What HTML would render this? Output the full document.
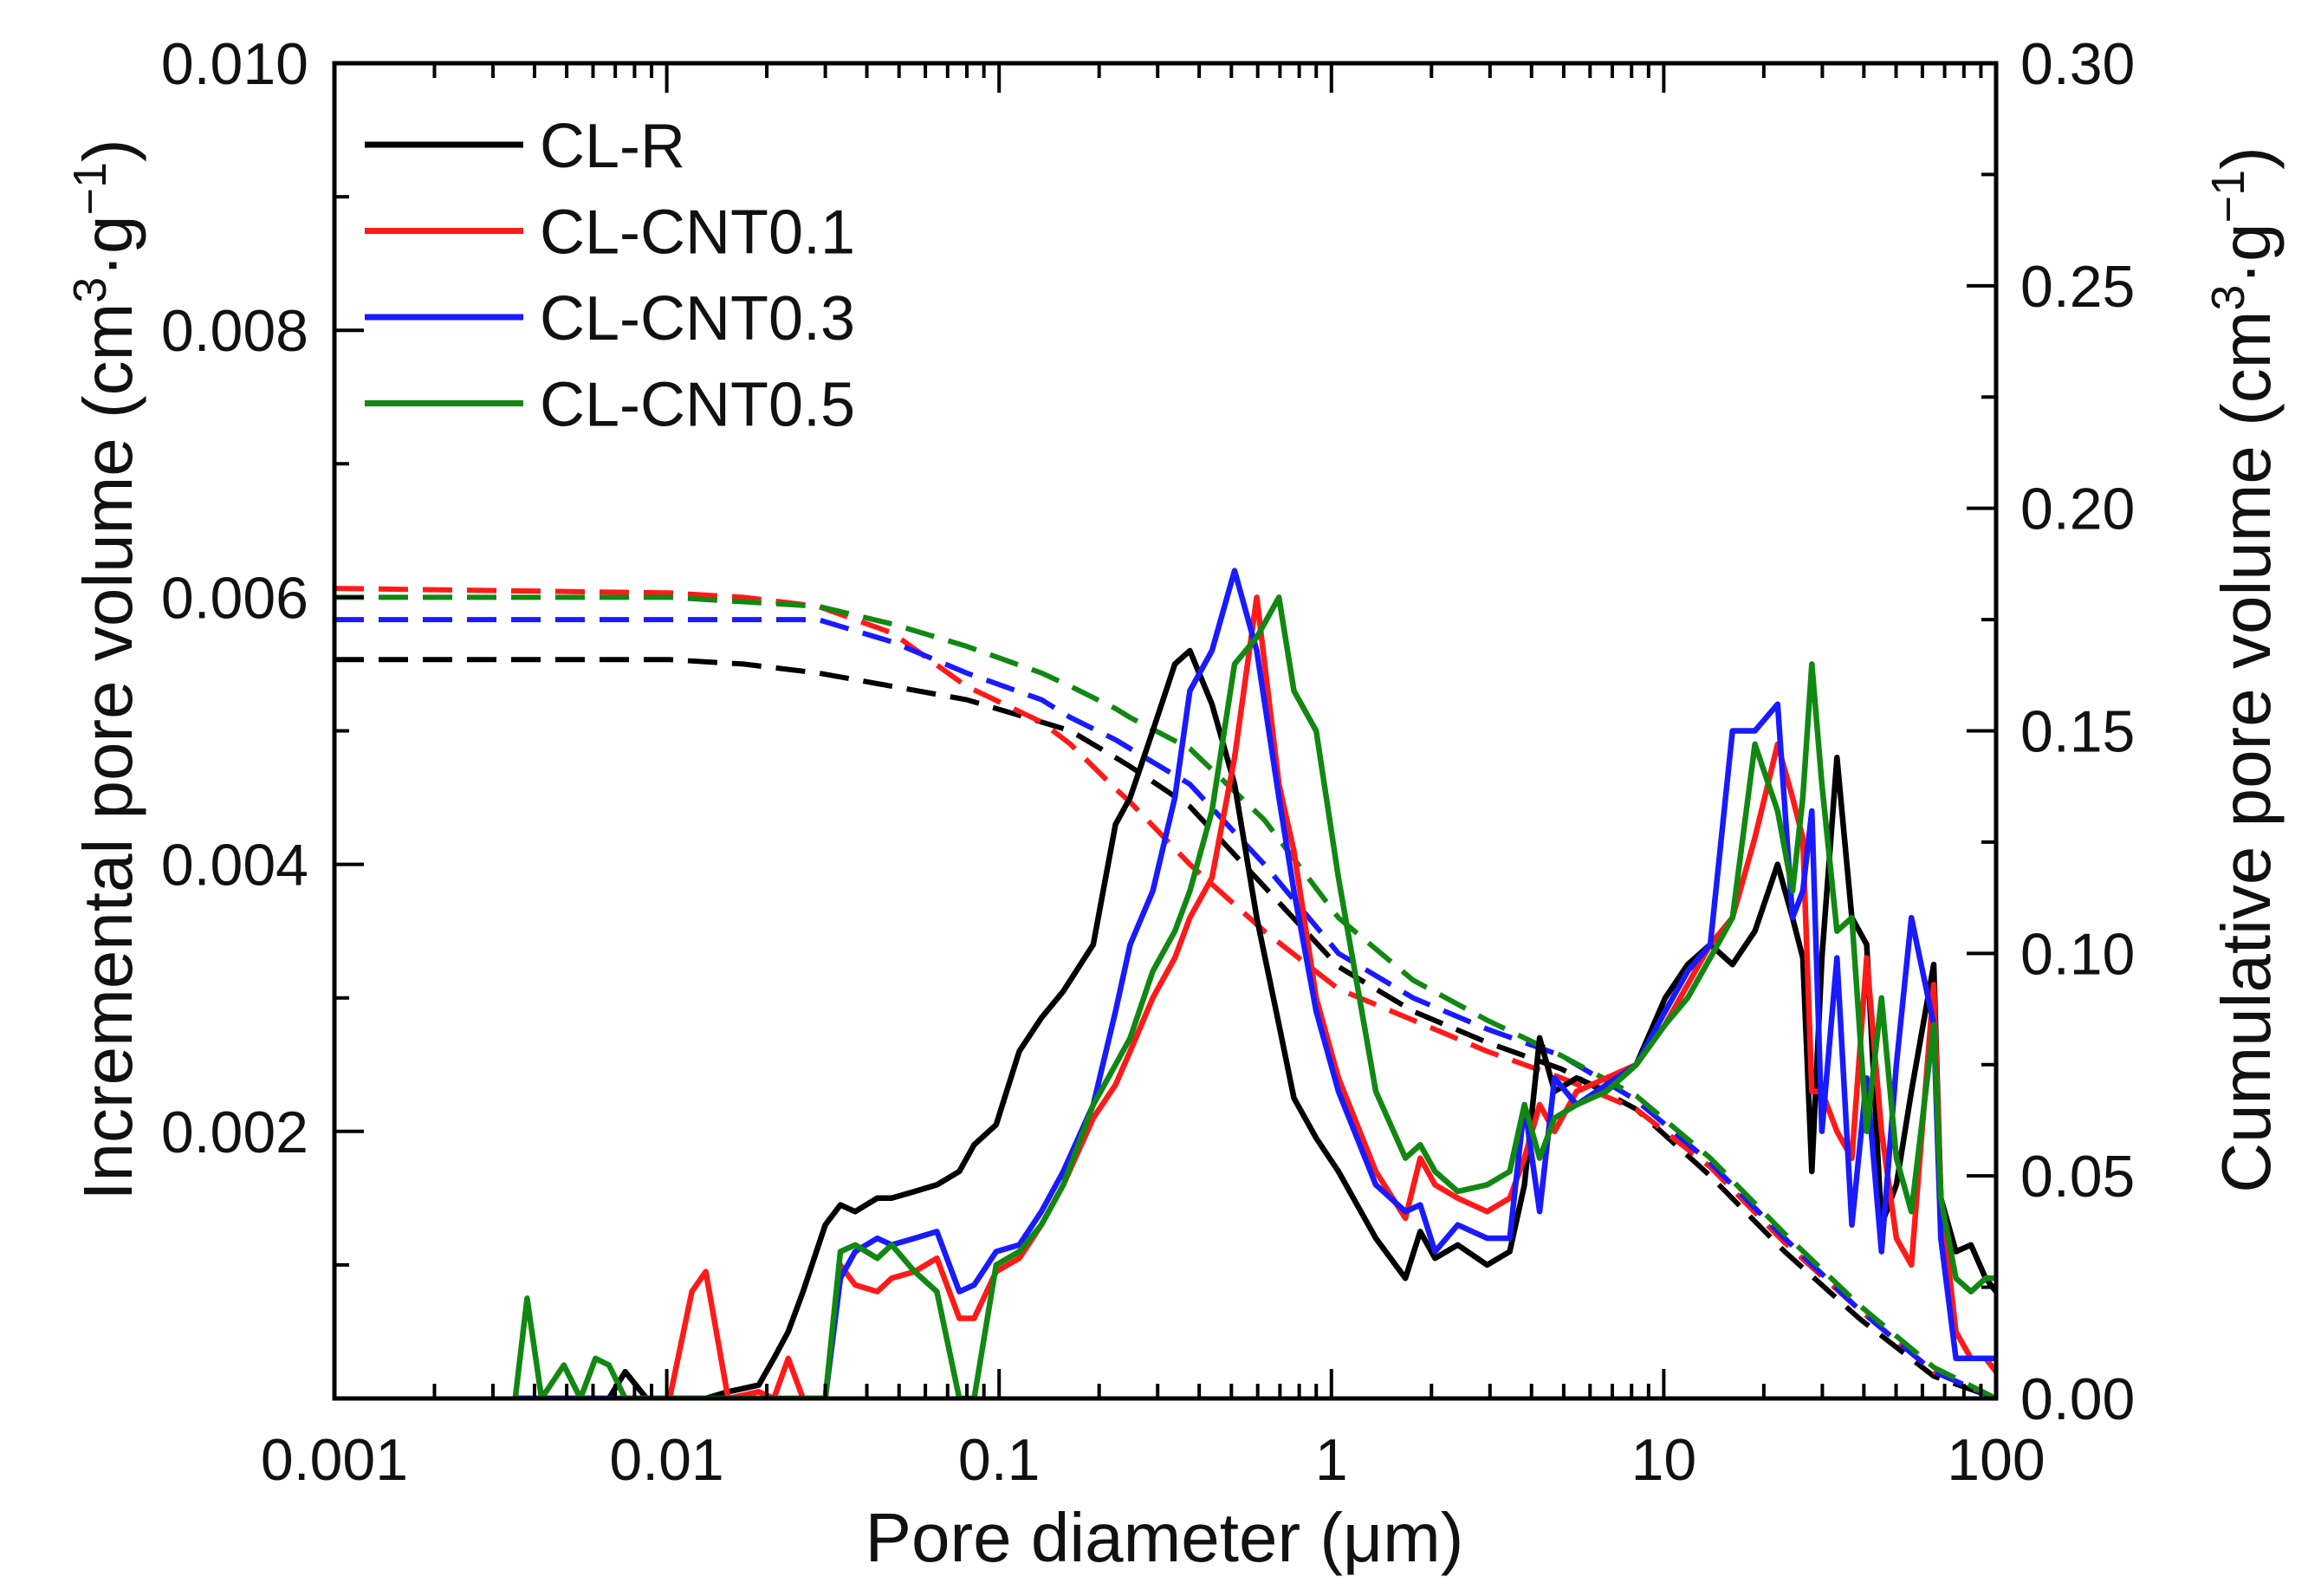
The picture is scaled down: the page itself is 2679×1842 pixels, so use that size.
<!DOCTYPE html>
<html><head><meta charset="utf-8"><style>
html,body{margin:0;padding:0;background:#fff;}
svg{display:block;font-family:"Liberation Sans",Arial,sans-serif;}
</style></head><body>
<svg id="chart" width="2679" height="1842" viewBox="0 0 2679 1842" xmlns="http://www.w3.org/2000/svg">
<rect x="0" y="0" width="2679" height="1842" fill="#fff"/>
<g id="marks"></g>
<g id="axes"></g>
<g id="legend"></g>
<text x="1344" y="1802" text-anchor="middle" font-size="80" fill="#111">Pore diameter (μm)</text>
<text transform="translate(152,773) rotate(-90)" text-anchor="middle" font-size="80" fill="#111">Incremental pore volume (cm<tspan dy="-30" font-size="54">3</tspan><tspan dy="30">·g</tspan><tspan dy="-30" font-size="54">−1</tspan><tspan dy="30">)</tspan></text>
<text transform="translate(2620,773) rotate(-90)" text-anchor="middle" font-size="80" fill="#111">Cumulative pore volume (cm<tspan dy="-30" font-size="54">3</tspan><tspan dy="30">·g</tspan><tspan dy="-30" font-size="54">−1</tspan><tspan dy="30">)</tspan></text>
</svg>
<script>
// incremental pore diameter grid (µm)
const incDiameters = [0.0035,0.0038,0.0042,0.0049,0.0055,0.0061,0.0067,0.0075,0.0087,0.0102,0.0119,0.0131,0.0153,0.0189,0.021,0.0232,0.0257,0.030,0.0333,0.0369,0.043,0.0475,0.0557,0.065,0.0759,0.0841,0.098,0.115,0.134,0.156,0.192,0.224,0.248,0.29,0.338,0.375,0.437,0.511,0.596,0.695,0.771,0.9,1.05,1.36,1.67,1.85,2.05,2.4,2.94,3.44,3.81,4.23,4.69,5.47,6.72,8.26,10.1,11.8,13.8,16.1,18.8,22.0,24.4,26.2,27.9,29.9,33.2,36.8,40.8,45.2,50.1,55.6,64.9,68.2,75.7,84,93,100];
// incremental pore volume, units of 1e-3 cm3/g
const incCLR = [0,0,0,0,0,0,0,0.2,0,0,0,0,0.05,0.1,0.3,0.5,0.8,1.3,1.45,1.4,1.5,1.5,1.55,1.6,1.7,1.9,2.05,2.6,2.85,3.05,3.4,4.3,4.5,5.0,5.5,5.6,5.2,4.6,3.6,2.8,2.25,1.95,1.7,1.2,0.9,1.25,1.05,1.15,1.0,1.1,1.6,2.7,2.3,2.4,2.3,2.5,3.0,3.25,3.4,3.25,3.5,4.0,3.6,3.3,1.7,3.3,4.8,3.6,3.4,1.3,1.6,2.3,3.25,1.5,1.1,1.15,0.9,0.8];
const incCNT01 = [0,0,0,0,0,0,0,0,0,0,0.8,0.95,0,0.05,0,0.3,0,0,1.0,0.85,0.8,0.9,0.95,1.05,0.6,0.6,0.95,1.05,1.3,1.6,2.1,2.35,2.6,3.0,3.3,3.6,3.9,4.8,6.0,4.6,4.1,3.0,2.4,1.7,1.35,1.8,1.6,1.5,1.4,1.5,1.8,2.2,2.0,2.3,2.4,2.5,2.8,3.1,3.4,3.6,4.2,4.9,4.5,4.2,2.3,2.3,2.0,1.8,3.3,2.0,1.2,1.0,3.1,1.5,0.5,0.3,0.3,0.2];
const incCNT03 = [0,0,0,0,0,0,0,0,0,0,0,0,0,0,0,0,0,0,0.9,1.1,1.2,1.15,1.2,1.25,0.8,0.85,1.1,1.15,1.4,1.7,2.2,2.9,3.4,3.8,4.5,5.3,5.6,6.2,5.6,4.5,3.8,2.9,2.3,1.6,1.4,1.45,1.1,1.3,1.2,1.2,2.2,1.4,2.4,2.2,2.35,2.5,2.9,3.2,3.4,5.0,5.0,5.2,3.6,3.8,4.4,2.0,3.3,1.3,2.4,1.1,2.5,3.6,2.8,1.2,0.3,0.3,0.3,0.3];
const incCNT05 = [0,0.75,0,0.25,0,0.3,0.25,0,0,0,0,0,0,0,0,0,0,0,1.1,1.15,1.05,1.15,0.95,0.8,0,0,1.0,1.1,1.3,1.6,2.2,2.5,2.7,3.2,3.5,3.8,4.4,5.5,5.7,6.0,5.3,5.0,3.9,2.3,1.8,1.9,1.7,1.55,1.6,1.7,2.2,1.8,2.1,2.2,2.3,2.5,2.8,3.0,3.3,3.6,4.9,4.4,3.8,4.5,5.5,4.6,3.5,3.6,2.0,3.0,1.8,1.4,2.8,1.5,0.9,0.8,0.9,0.9];
// cumulative pore volume (cm3/g)
const cumDiameters = [0.001,0.0102,0.017,0.0285,0.0477,0.0798,0.134,0.164,0.224,0.248,0.375,0.628,1.05,1.76,2.94,4.93,8.26,13.8,23.1,38.7,64.9,100];
const cumCLR   = [0.166,0.166,0.165,0.163,0.160,0.157,0.152,0.150,0.144,0.142,0.133,0.115,0.097,0.087,0.080,0.074,0.065,0.050,0.033,0.018,0.005,0];
const cumCNT01 = [0.182,0.181,0.180,0.178,0.172,0.160,0.152,0.147,0.137,0.134,0.120,0.105,0.092,0.085,0.078,0.072,0.065,0.052,0.035,0.020,0.006,0];
const cumCNT03 = [0.175,0.175,0.175,0.175,0.170,0.163,0.157,0.153,0.148,0.146,0.138,0.120,0.100,0.090,0.083,0.077,0.067,0.053,0.036,0.020,0.006,0];
const cumCNT05 = [0.180,0.180,0.179,0.178,0.174,0.169,0.163,0.160,0.155,0.153,0.146,0.130,0.108,0.094,0.085,0.077,0.068,0.054,0.037,0.021,0.007,0];
const xTickValues = [0.001,0.01,0.1,1,10,100];
const xTickLabels = ["0.001","0.01","0.1","1","10","100"];
const yLeftTicks = [0,2,4,6,8,10];
const yLeftLabels = ["","0.002","0.004","0.006","0.008","0.010"];
const yRightTicks = [0,0.05,0.10,0.15,0.20,0.25,0.30];
const yRightLabels = ["0.00","0.05","0.10","0.15","0.20","0.25","0.30"];
const seriesNames = ["CL-R","CL-CNT0.1","CL-CNT0.3","CL-CNT0.5"];
const seriesColors = ["#000000","#ff1a1a","#1a1aff","#118811"];

const L=386,R=2304,T=73,B=1614;
const NS="http://www.w3.org/2000/svg";
function xs(d){return L+(Math.log10(d)+3)/5*(R-L);}
function yl(v){return B-v/10*(B-T);}
function yr(v){return B-v/0.30*(B-T);}
function mk(tag,attrs,parent){const e=document.createElementNS(NS,tag);for(const k in attrs)e.setAttribute(k,attrs[k]);parent.appendChild(e);return e;}
const marks=document.getElementById('marks'),axes=document.getElementById('axes'),legend=document.getElementById('legend');

const incSeries=[incCLR,incCNT01,incCNT03,incCNT05];
const cumSeries=[cumCLR,cumCNT01,cumCNT03,cumCNT05];
const clip=mk('clipPath',{id:'pc'},marks);mk('rect',{x:L,y:T,width:R-L,height:B-T},clip);
cumSeries.forEach((s,i)=>{
  const p=mk('path',{d:s.map((v,j)=>(j?'L':'M')+xs(cumDiameters[j]).toFixed(1)+','+yr(v).toFixed(1)).join(''),fill:'none',stroke:seriesColors[i],'stroke-width':6,'stroke-dasharray':'34 17','clip-path':'url(#pc)'},marks);
  
  
});
incSeries.forEach((s,i)=>{
  const p=mk('path',{d:s.map((v,j)=>(j?'L':'M')+xs(incDiameters[j]).toFixed(1)+','+yl(v).toFixed(1)).join(''),fill:'none',stroke:seriesColors[i],'stroke-width':6.5,'stroke-linejoin':'round','clip-path':'url(#pc)'},marks);
  
  
});

const fr=mk('rect',{x:L,y:T,width:R-L,height:B-T,fill:'none',stroke:'#000','stroke-width':5},axes);


for(let dec=-3;dec<2;dec++){for(let m=1;m<10;m++){
  const x=xs(m*Math.pow(10,dec));const len=m===1?34:17;
  mk('line',{x1:x,y1:B,x2:x,y2:B-len,stroke:'#000','stroke-width':4},axes);
  mk('line',{x1:x,y1:T,x2:x,y2:T+len,stroke:'#000','stroke-width':4},axes);
}}
xTickValues.forEach((v,i)=>{
  const t=mk('text',{x:xs(v),y:1708,'text-anchor':'middle','font-size':68,fill:'#111'},axes);t.textContent=xTickLabels[i];
  
  
});
for(let v=0;v<=10;v+=1){const y=yl(v);mk('line',{x1:L,y1:y,x2:L+(v%2===0?34:17),y2:y,stroke:'#000','stroke-width':4},axes);}
yLeftTicks.forEach((v,i)=>{if(!yLeftLabels[i])return;
  const t=mk('text',{x:356,y:yl(v)+24,'text-anchor':'end','font-size':68,fill:'#111'},axes);t.textContent=yLeftLabels[i];
  
  
});
for(let k=0;k<=12;k++){const y=yr(k*0.025);mk('line',{x1:R,y1:y,x2:R-(k%2===0?34:17),y2:y,stroke:'#000','stroke-width':4},axes);}
yRightTicks.forEach((v,i)=>{
  const t=mk('text',{x:2332,y:yr(v)+24,'text-anchor':'start','font-size':68,fill:'#111'},axes);t.textContent=yRightLabels[i];
  
  
});
seriesNames.forEach((n,i)=>{
  const y=167+i*99.5;
  const ln=mk('line',{x1:421,y1:y,x2:604,y2:y,stroke:seriesColors[i],'stroke-width':7},legend);
  
  
  const t=mk('text',{x:623,y:y+26,'font-size':72,fill:'#111'},legend);t.textContent=n;
  
  
});
</script>
</body></html>
